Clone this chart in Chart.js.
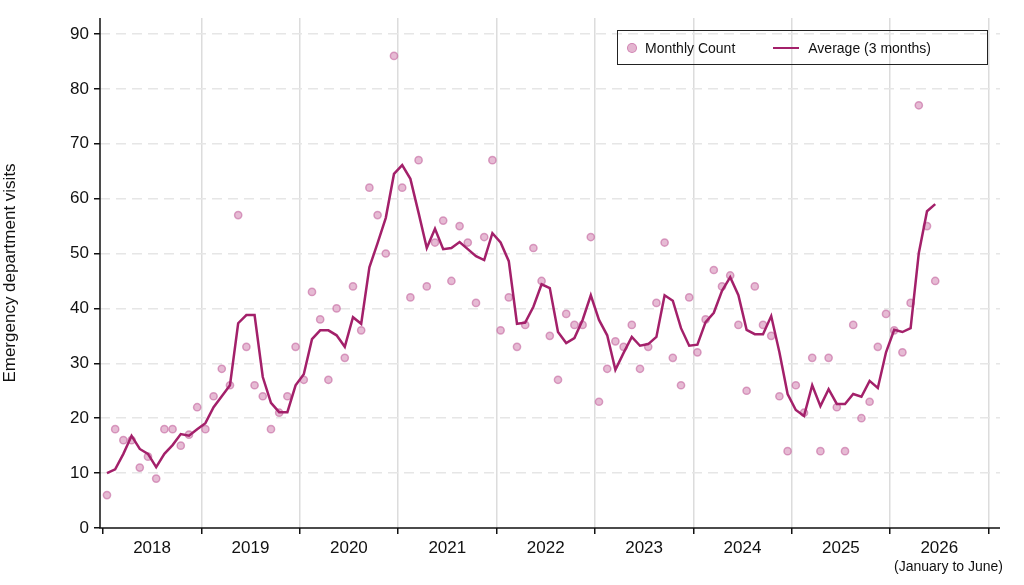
<!DOCTYPE html>
<html><head><meta charset="utf-8">
<script src="https://cdn.jsdelivr.net/npm/chart.js@4/dist/chart.umd.min.js"></script>
<style>
html,body{margin:0;padding:0;background:#fff;}
#wrap{position:relative;width:1024px;height:585px;}
#legend{position:absolute;left:617px;top:30px;width:371px;height:35px;border:1px solid #222;box-sizing:border-box;font:14px "Liberation Sans",Arial,sans-serif;color:#111;display:flex;align-items:center;}
.dot{display:inline-block;width:8px;height:8px;border-radius:50%;background:rgba(205,120,170,0.55);border:1.5px solid rgba(200,110,165,0.7);margin:0 8px 0 9px;}
.ln{display:inline-block;width:26px;height:0;border-top:2.5px solid #A3206A;margin:0 9px 0 38px;}
</style></head>
<body><div id="wrap"><canvas id="c" width="1024" height="585"></canvas>
<div id="legend"><span class="dot"></span>Monthly Count<span class="ln"></span>Average (3 months)</div></div>
<script>
const years = ["2018","2019","2020","2021","2022","2023","2024","2025","2026"];
const monthlyCount = [6,18,16,16,11,13,9,18,18,15,17,22,
 18,24,29,26,57,33,26,24,18,21,24,33,
 27,43,38,27,40,31,44,36,62,57,50,86,
 62,42,67,44,52,56,45,55,52,41,53,67,
 36,42,33,37,51,45,35,27,39,37,37,53,
 23,29,34,33,37,29,33,41,52,31,26,42,
 32,38,47,44,46,37,25,44,37,35,24,14,
 26,21,31,14,31,22,14,37,20,23,33,39,
 36,32,41,77,55,45];
const average3 = [10,10.7,13.5,16.8,14.4,13.5,11.1,13.5,15.1,17.1,16.8,18,
 19.1,22,24,26,37.3,38.8,38.8,27.5,22.8,21.1,21.1,26,
 28,34.4,36,36,35.1,33,38.4,37.2,47.5,51.9,56.5,64.5,
 66.1,63.6,57.4,51,54.5,50.8,51,52.1,50.8,49.5,48.8,53.7,
 52,48.6,37.2,37.4,40.3,44.4,43.7,35.7,33.7,34.6,37.9,42.4,
 37.9,35.1,28.8,31.9,34.8,33.2,33.5,34.8,42.4,41.4,36.4,33.2,
 33.4,37.5,39.2,43.2,45.7,42.4,36.1,35.3,35.3,38.6,32,24.4,
 21.5,20.4,26,22.2,25.3,22.6,22.6,24.4,23.9,26.8,25.5,32,
 36.1,35.7,36.4,50.1,57.7,59];
const yTicks = [0,10,20,30,40,50,60,70,80,90];

const pts = monthlyCount.map((v,i)=>({x:i,y:v}));
const avg = average3.map((v,i)=>({x:i,y:v}));
const FONT = '"Liberation Sans", Arial, sans-serif';

const axisPlugin = {
  id:'axes',
  afterDraw(chart){
    const {ctx, chartArea:a} = chart;
    ctx.save();
    ctx.strokeStyle='#111'; ctx.lineWidth=1.5;
    ctx.beginPath(); ctx.moveTo(a.left,a.top); ctx.lineTo(a.left,a.bottom); ctx.lineTo(a.right,a.bottom); ctx.stroke();
    ctx.fillStyle='#111'; ctx.font='14px '+FONT; ctx.textAlign='right'; ctx.textBaseline='middle';
    ctx.fillText('(January to June)', 1003, 567);
    ctx.restore();
  }
};

new Chart(document.getElementById('c'), {
  data:{datasets:[
    {type:'line', label:'Average (3 months)', data:avg, borderColor:'#A3206A', borderWidth:2.5, pointRadius:0, tension:0, order:1},
    {type:'scatter', label:'Monthly Count', data:pts, pointRadius:3.6, backgroundColor:'rgba(205,120,170,0.5)', borderColor:'rgba(200,110,165,0.65)', borderWidth:1.5, order:2}
  ]},
  options:{
    responsive:false, animation:false, devicePixelRatio:1,
    layout:{padding:{top:18,right:24,left:0,bottom:0}},
    plugins:{legend:{display:false}, tooltip:{enabled:false}},
    scales:{
      x:{type:'linear', min:-0.85, max:108.9,
        afterBuildTicks(axis){
          const t=[];
          for(let k=0;k<=years.length;k++){ t.push({value:12*k-0.5}); if(k<years.length) t.push({value:12*k+5.5}); }
          axis.ticks=t;
        },
        afterFit(s){ s.height=57; },
        ticks:{autoSkip:false, maxRotation:0, color:'#111', font:{size:17,family:FONT}, padding:4,
          callback(v){ const k=Math.round((v-5.5)/12); return Math.abs(v-(12*k+5.5))<0.01 ? years[k] : ''; }},
        grid:{ color:(c)=> (c.tick && Math.abs(((c.tick.value+0.5)%12))<0.01 && c.tick.value>0) ? '#dcdcdc' : 'rgba(0,0,0,0)',
          tickColor:(c)=> (c.tick && Math.abs(((c.tick.value+0.5)%12))<0.01) ? '#111' : 'rgba(0,0,0,0)',
          lineWidth:1.5, tickLength:6 },
        border:{display:false}
      },
      y:{min:0, max:92.9,
        afterBuildTicks(axis){ axis.ticks = yTicks.map(v=>({value:v})); },
        afterFit(s){ s.width=100; },
        ticks:{color:'#111', font:{size:17,family:FONT}, padding:5},
        title:{display:true, text:'Emergency department visits', color:'#111', font:{size:17,family:FONT}, padding:{top:0,bottom:8}},
        grid:{color:(c)=> c.tick && c.tick.value>0 ? '#e6e6e6':'rgba(0,0,0,0)', tickColor:'#111', lineWidth:1.5, tickLength:6, tickBorderDash:[], tickBorderDashOffset:0},
        border:{display:false, dash:[10,6]}
      }
    }
  },
  plugins:[axisPlugin]
});
</script></body></html>
